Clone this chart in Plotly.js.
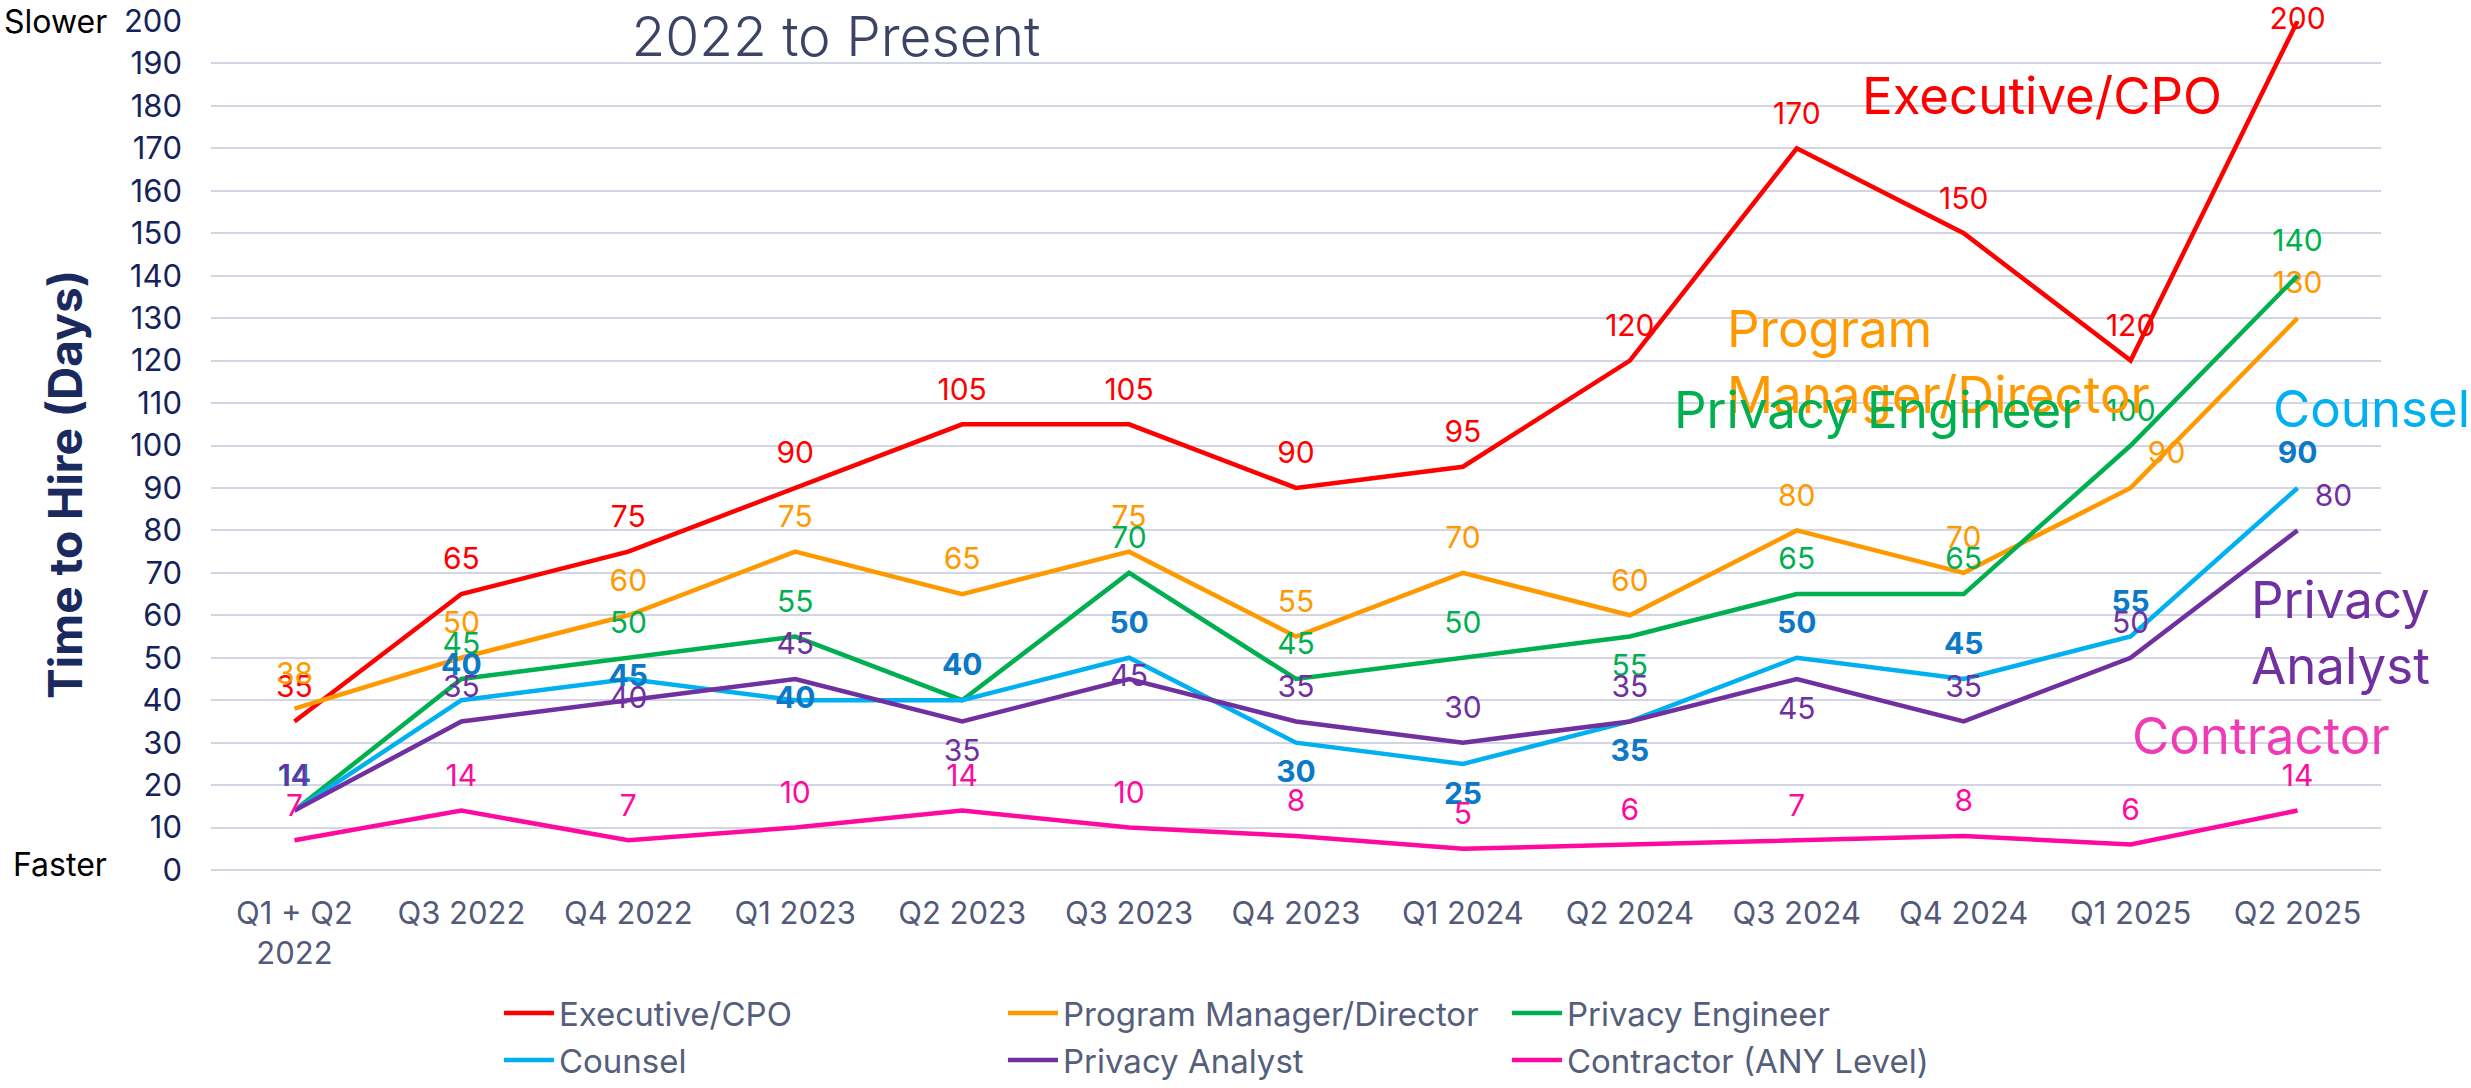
<!DOCTYPE html>
<html>
<head>
<meta charset="utf-8">
<script src="https://cdn.plot.ly/plotly-3.0.1.min.js"></script>
<style>
html,body{margin:0;padding:0;background:#fff;}
#chart{width:2471px;height:1088px;}
</style>
</head>
<body>
<div id="chart"></div>
<script>
// ---- Data ----
const categories = ['Q1 + Q2<br>2022', 'Q3 2022', 'Q4 2022', 'Q1 2023', 'Q2 2023', 'Q3 2023',
  'Q4 2023', 'Q1 2024', 'Q2 2024', 'Q3 2024', 'Q4 2024', 'Q1 2025', 'Q2 2025'];
const seriesNames = ['Executive/CPO', 'Program Manager/Director', 'Privacy Engineer',
  'Counsel', 'Privacy Analyst', 'Contractor (ANY Level)'];
const executiveCPO = [35, 65, 75, 90, 105, 105, 90, 95, 120, 170, 150, 120, 200];
const programManager = [38, 50, 60, 75, 65, 75, 55, 70, 60, 80, 70, 90, 130];
const privacyEngineer = [14, 45, 50, 55, 40, 70, 45, 50, 55, 65, 65, 100, 140];
const counsel = [14, 40, 45, 40, 40, 50, 30, 25, 35, 50, 45, 55, 90];
const privacyAnalyst = [14, 35, 40, 45, 35, 45, 35, 30, 35, 45, 35, 50, 80];
const contractor = [7, 14, 7, 10, 14, 10, 8, 5, 6, 7, 8, 6, 14];
const yTickValues = [0, 10, 20, 30, 40, 50, 60, 70, 80, 90, 100, 110, 120, 130, 140, 150, 160, 170, 180, 190, 200];
const yAxisTitle = 'Time to Hire (Days)';
const chartTitle = '2022 to Present';

// ---- Styles ----
const T = 'top center', B = 'bottom center', M = 'middle center', TR = 'top right';
const styles = [
  {color: '#FF0000', label: '#FF0000', bold: false, legend: 'legend',
   pos: [T, T, T, T, T, T, T, T, T, T, T, T, M]},
  {color: '#FF9900', label: '#FF9900', bold: false, legend: 'legend',
   pos: [T, T, T, T, T, T, T, T, T, T, T, TR, T]},
  {color: '#00B050', label: '#00B050', bold: false, legend: 'legend',
   pos: [T, T, T, T, T, T, T, T, B, T, T, T, T]},
  {color: '#00B0F0', label: '#0B78C8', bold: true, legend: 'legend2',
   pos: [T, T, M, M, T, T, B, B, B, T, T, T, T]},
  {color: '#7030A0', label: '#7030A0', bold: false, legend: 'legend2',
   pos: [T, T, M, T, B, M, T, T, T, B, T, T, TR]},
  {color: '#FF0A9E', label: '#FF0A9E', bold: false, legend: 'legend2',
   pos: [T, T, T, T, T, T, T, T, T, T, T, T, T]}
];
const allSeries = [executiveCPO, programManager, privacyEngineer, counsel, privacyAnalyst, contractor];
const FONT = 'Inter, "Noto Sans", sans-serif';

const traces = allSeries.map((vals, i) => ({
  type: 'scatter',
  mode: 'lines+markers+text',
  name: seriesNames[i],
  x: categories,
  y: vals,
  text: vals.map(String),
  textposition: styles[i].pos,
  textfont: {family: FONT, size: 30, color: styles[i].label, weight: styles[i].bold ? 700 : 400},
  line: {color: styles[i].color, width: 4.5},
  marker: {size: 26, color: 'rgba(0,0,0,0)'},
  cliponaxis: false,
  hoverinfo: 'none',
  legend: styles[i].legend
}));

const legendCommon = {
  orientation: 'h',
  x: 0.1327, xanchor: 'left',
  xref: 'paper',
  yref: 'container',
  entrywidth: 439, entrywidthmode: 'pixels',
  itemwidth: 50,
  font: {family: FONT, size: 33, color: '#555E7B'},
  bgcolor: 'rgba(0,0,0,0)',
  traceorder: 'normal'
};

const layout = {
  width: 2471, height: 1088,
  margin: {l: 211, r: 90, t: 21, b: 218},
  paper_bgcolor: '#ffffff',
  plot_bgcolor: '#ffffff',
  font: {family: FONT},
  title: {
    text: chartTitle,
    font: {family: FONT, size: 55, color: '#3C4466', weight: 300},
    xref: 'paper', x: 0.288, xanchor: 'center',
    yref: 'container', y: 0.966, yanchor: 'middle'
  },
  xaxis: {
    type: 'category',
    range: [-0.5, 12.5],
    showgrid: false,
    zeroline: false,
    showline: false,
    ticks: '',
    ticklabelstandoff: 22,
    automargin: false,
    tickfont: {family: FONT, size: 31, color: '#525A78'}
  },
  yaxis: {
    range: [0, 200],
    tickvals: yTickValues,
    showgrid: true,
    gridcolor: '#D3D6E2',
    gridwidth: 2,
    zeroline: true,
    zerolinecolor: '#D3D6E2',
    zerolinewidth: 2,
    showline: false,
    ticks: '',
    ticklabelstandoff: 28,
    automargin: false,
    tickfont: {family: FONT, size: 31, color: '#14245A'}
  },
  showlegend: true,
  legend: Object.assign({}, legendCommon, {y: 0.0689, yanchor: 'middle'}),
  legend2: Object.assign({}, legendCommon, {y: -0.008, yanchor: 'bottom'}),
  annotations: [
    {text: yAxisTitle, xref: 'paper', yref: 'paper', x: -0.0673, y: 0.4547, xanchor: 'center', yanchor: 'middle',
     textangle: -90, showarrow: false, font: {family: FONT, size: 46, color: '#1B2A5E', weight: 700}},
    {text: 'Slower', xref: 'paper', yref: 'paper', x: -0.047, y: 1.0, xanchor: 'right', yanchor: 'middle',
     showarrow: false, font: {family: FONT, size: 32, color: '#000000'}},
    {text: 'Faster', xref: 'paper', yref: 'paper', x: -0.047, y: 0.006, xanchor: 'right', yanchor: 'middle',
     showarrow: false, font: {family: FONT, size: 32, color: '#000000'}},
    {text: 'Executive/CPO', xref: 'paper', yref: 'paper', x: 0.8438, y: 0.9123, xanchor: 'center', yanchor: 'middle',
     showarrow: false, font: {family: FONT, size: 51, color: '#FF0000'}},
    {text: 'Program<br>Manager/Director', xref: 'paper', yref: 'paper', x: 0.6977, y: 0.599, xanchor: 'left', yanchor: 'middle',
     align: 'left', showarrow: false, font: {family: FONT, size: 51, color: '#FF9900'}},
    {text: 'Privacy Engineer', xref: 'paper', yref: 'paper', x: 0.6733, y: 0.5427, xanchor: 'left', yanchor: 'middle',
     showarrow: false, font: {family: FONT, size: 51, color: '#00B050'}},
    {text: 'Counsel', xref: 'paper', yref: 'paper', x: 0.9493, y: 0.5438, xanchor: 'left', yanchor: 'middle',
     showarrow: false, font: {family: FONT, size: 51, color: '#00B0F0'}},
    {text: 'Privacy<br>Analyst', xref: 'paper', yref: 'paper', x: 0.9392, y: 0.2796, xanchor: 'left', yanchor: 'middle',
     align: 'left', showarrow: false, font: {family: FONT, size: 51, color: '#7030A0'}},
    {text: 'Contractor', xref: 'paper', yref: 'paper', x: 0.8843, y: 0.159, xanchor: 'left', yanchor: 'middle',
     showarrow: false, font: {family: FONT, size: 51, color: '#F03CB4'}}
  ]
};

Plotly.newPlot('chart', traces, layout, {displayModeBar: false, staticPlot: true});
</script>
</body>
</html>
